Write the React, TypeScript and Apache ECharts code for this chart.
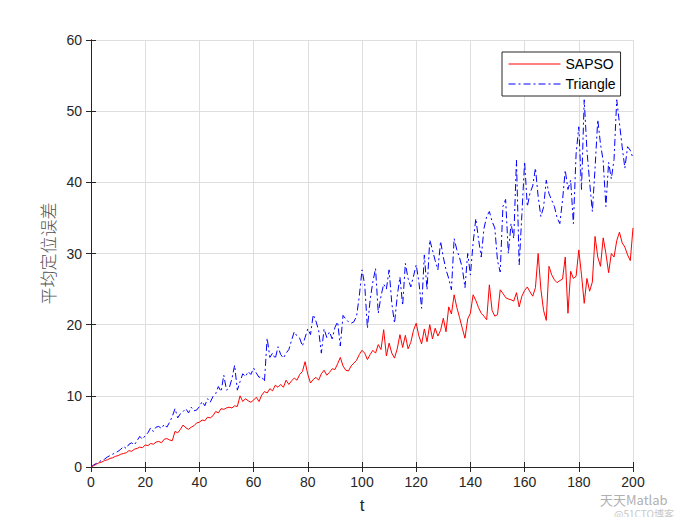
import React, { useEffect, useRef } from "react";
import * as echarts from "echarts";

const xTicks = [0, 20, 40, 60, 80, 100, 120, 140, 160, 180, 200];
const yTicks = [0, 10, 20, 30, 40, 50, 60];

const sapso = [
  0, 0.2, 0.4, 0.6, 0.7, 0.9, 1.0, 1.2, 1.3, 1.5,
  1.6, 1.8, 1.9, 2.0, 2.3, 2.2, 2.5, 2.6, 2.8, 2.7,
  3.1, 3.0, 3.3, 3.2, 3.5, 3.6, 3.4, 3.9, 4.0, 3.8,
  3.7, 5.0, 4.8, 5.3, 5.9, 5.5, 5.3, 5.6, 5.8, 6.2,
  6.3, 6.6, 6.5, 7.0, 6.9, 7.2, 7.8, 7.6, 8.2, 8.1,
  8.3, 8.4, 8.3, 8.6, 8.5, 10.0, 9.2, 9.6, 9.3, 9.1,
  9.4, 9.8, 9.2, 10.1, 10.6, 10.4, 11.0, 10.7, 11.5, 11.2,
  11.6, 11.2, 12.2, 11.6, 12.1, 12.5, 12.2, 13.0, 13.4, 14.8,
  13.0, 11.8, 12.3, 12.6, 12.2, 13.1, 13.6, 12.9, 13.3, 13.8,
  13.7, 14.5, 15.4, 14.2, 13.6, 13.5, 14.2, 14.6, 15.0, 15.8,
  16.4, 16.0, 15.1, 15.8, 16.4, 16.0, 17.2, 16.5, 19.3, 15.6,
  17.4, 16.0, 15.3, 16.6, 18.6, 16.8, 18.5, 16.6, 17.5, 19.2,
  20.2, 18.4, 17.3, 19.4, 17.6, 20.0, 18.0, 19.5, 18.4, 19.2,
  20.9, 19.0, 22.5, 21.5, 24.2, 22.4, 21.0, 19.5, 18.1, 20.8,
  21.6, 24.2, 23.4, 22.4, 21.6, 21.2, 20.7, 25.6, 22.0, 21.2,
  21.4, 24.9, 24.4, 23.8, 23.6, 23.5, 23.3, 24.5, 22.5, 24.0,
  24.8, 25.3, 24.6, 24.0, 25.2, 30.0, 25.0, 22.0, 20.6, 28.2,
  27.0, 26.3, 25.9, 26.2, 26.4, 29.5, 21.6, 27.5, 26.5, 26.8,
  30.5, 27.0, 23.0, 26.5, 24.7, 26.0, 32.4, 29.5, 28.2, 32.2,
  30.0, 27.3, 30.0, 29.5, 31.8, 33.0, 31.5, 30.9, 29.8, 29.0,
  33.6,
];

const triangle = [
  0, 0.3, 0.5, 0.7, 1.0, 1.1, 1.4, 1.6, 1.8, 2.0,
  2.2, 2.5, 2.9, 2.6, 3.2, 3.4, 3.1, 3.7, 4.3, 3.9,
  4.4, 4.8, 5.5, 5.0, 5.6, 5.7, 5.4, 6.0, 5.6, 6.3,
  7.1, 8.2, 6.9, 7.5, 7.8, 8.2, 7.6, 8.4, 7.9, 8.0,
  8.5, 9.2, 8.6, 9.6, 9.1, 9.9, 10.3, 11.3, 10.6, 12.9,
  10.8, 11.1, 12.4, 14.3, 10.8, 12.0, 13.1, 12.7, 13.4, 13.0,
  13.9, 13.2, 12.6, 12.7, 12.0, 18.1, 15.4, 16.0, 15.2, 16.9,
  15.8, 15.3, 16.0, 16.5, 17.8, 19.0, 18.4, 18.1, 17.0, 18.2,
  19.4, 18.6, 21.4, 20.5, 19.2, 16.0, 19.4, 18.2, 19.0, 18.0,
  19.6, 20.4, 17.0, 21.3, 20.8, 20.4, 20.2, 20.4, 21.2, 24.0,
  27.7, 25.6, 19.5, 23.5, 26.0, 27.9, 21.6, 24.0, 25.7, 25.0,
  27.7, 23.0, 20.2, 24.0, 26.7, 22.7, 28.6, 26.5, 25.3, 26.8,
  28.4, 26.0, 22.3, 29.8, 24.9, 31.9, 30.5, 29.0, 27.7, 31.7,
  29.5, 27.7, 26.5, 24.9, 32.1, 30.5, 29.4, 28.0, 25.2, 30.0,
  27.0, 31.5, 34.9, 32.0, 29.5, 33.5, 35.2, 35.9, 34.5, 33.6,
  29.0, 27.4, 36.6, 37.6, 30.0, 34.2, 32.1, 43.1, 28.4, 35.5,
  42.9, 36.6, 38.5, 39.5, 42.0, 38.0, 35.2, 36.5, 40.3, 38.4,
  37.5, 36.6, 35.0, 34.2, 37.5, 41.7, 39.0, 40.3, 34.2, 44.0,
  47.8, 39.0, 51.6, 44.5, 40.0, 35.9, 42.0, 48.8, 45.4, 43.0,
  36.6, 42.8, 40.5, 43.2, 51.6, 48.3, 45.0, 42.0, 45.0, 44.5,
  43.4,
];

const seriesNames = ["SAPSO", "Triangle"];
const xName = "t";
const yName = "平均定位误差";
const watermark = ["天天Matlab", "@51CTO博客"];

export default function App() {
  const ref = useRef<HTMLDivElement>(null);
  useEffect(() => {
    if (!ref.current) return;
    const chart = echarts.init(ref.current, undefined, { renderer: "svg" });
    const axisColor = "#262626";
    const font = "Arial, 'Liberation Sans', Helvetica, sans-serif";
    const xMin = xTicks[0];
    const xMax = xTicks[xTicks.length - 1];
    const xInt = xTicks[1] - xTicks[0];
    const yMin = yTicks[0];
    const yMax = yTicks[yTicks.length - 1];
    const yInt = yTicks[1] - yTicks[0];
    const common = {
      axisLine: { show: true, lineStyle: { color: axisColor, width: 1 } },
      axisTick: { show: true, inside: true, length: 5, lineStyle: { color: axisColor } },
    };
    chart.setOption({
      animation: false,
      backgroundColor: "#ffffff",
      grid: { left: 91, right: 67, top: 40, bottom: 58, containLabel: false },
      legend: {
        orient: "vertical",
        left: 502,
        top: 52,
        padding: [5, 5, 5, 6],
        itemGap: 6,
        itemWidth: 52,
        itemHeight: 10,
        backgroundColor: "#ffffff",
        borderColor: axisColor,
        borderWidth: 1,
        borderRadius: 0,
        itemStyle: { opacity: 0 },
        lineStyle: { width: 1 },
        textStyle: { fontFamily: font, fontSize: 14, color: "#000" },
        data: seriesNames,
      },
      xAxis: [
        {
          type: "value",
          min: xMin,
          max: xMax,
          interval: xInt,
          position: "bottom",
          name: xName,
          nameLocation: "middle",
          nameGap: 30,
          nameTextStyle: { fontFamily: font, fontSize: 17, color: axisColor },
          ...common,
          axisLabel: { fontFamily: font, fontSize: 14, color: axisColor, margin: 8 },
          splitLine: { show: true, lineStyle: { color: "#dedede", width: 1 } },
        },
        {
          type: "value",
          min: xMin,
          max: xMax,
          interval: xInt,
          position: "top",
          ...common,
          axisLabel: { show: false },
          splitLine: { show: false },
        },
      ],
      yAxis: [
        {
          type: "value",
          min: yMin,
          max: yMax,
          interval: yInt,
          position: "left",
          name: yName,
          nameLocation: "middle",
          nameGap: 31,
          nameTextStyle: {
            fontFamily: "'Noto Sans CJK SC', sans-serif",
            fontSize: 17,
            color: "#505050",
            fontWeight: 300,
          },
          ...common,
          axisLabel: { fontFamily: font, fontSize: 14, color: axisColor, margin: 9 },
          splitLine: { show: true, lineStyle: { color: "#dedede", width: 1 } },
        },
        {
          type: "value",
          min: yMin,
          max: yMax,
          interval: yInt,
          position: "right",
          ...common,
          axisLabel: { show: false },
          splitLine: { show: false },
        },
      ],
      series: [
        {
          name: seriesNames[0],
          type: "line",
          data: sapso.map((v, i) => [i, v]),
          symbol: "none",
          showSymbol: false,
          lineStyle: { color: "#ff0000", width: 1 },
          itemStyle: { color: "#ff0000" },
          z: 3,
        },
        {
          name: seriesNames[1],
          type: "line",
          data: triangle.map((v, i) => [i, v]),
          symbol: "none",
          showSymbol: false,
          lineStyle: { color: "#0000ff", width: 1, type: [7, 3, 2, 3] },
          itemStyle: { color: "#0000ff" },
          z: 2,
        },
      ],
      graphic: [
        {
          type: "text",
          left: 600,
          top: 492,
          style: {
            text: watermark[0],
            fontSize: 13,
            lineHeight: 14,
            fill: "#b0b0b0",
            fontFamily: "'Noto Sans CJK SC', sans-serif",
          },
          z: 10,
        },
        {
          type: "text",
          left: 614,
          top: 508,
          style: {
            text: watermark[1],
            fontSize: 10,
            lineHeight: 11,
            fill: "#c8c8c8",
            fontFamily: "'Noto Sans CJK SC', sans-serif",
          },
          z: 10,
        },
      ],
    });
    return () => chart.dispose();
  }, []);
  return <div ref={ref} style={{ width: 700, height: 525, margin: -8 }} />;
}
